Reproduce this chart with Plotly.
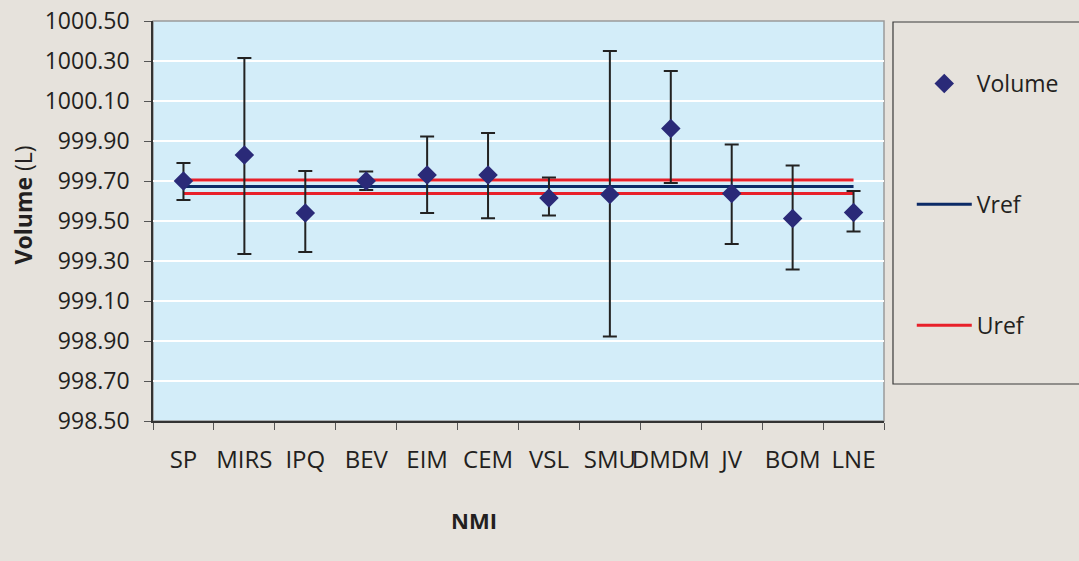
import plotly.graph_objects as go

categories = ["SP", "MIRS", "IPQ", "BEV", "EIM", "CEM", "VSL", "SMU", "DMDM", "JV", "BOM", "LNE"]
volume = [999.70, 999.83, 999.54, 999.70, 999.73, 999.73, 999.615, 999.633, 999.963, 999.637, 999.512, 999.542]
err_plus = [0.09, 0.485, 0.21, 0.047, 0.192, 0.21, 0.102, 0.717, 0.287, 0.246, 0.266, 0.108]
err_minus = [0.095, 0.495, 0.195, 0.045, 0.19, 0.216, 0.087, 0.711, 0.273, 0.252, 0.254, 0.095]
vref = 999.672
uref_hi = 999.705
uref_lo = 999.638

FONT = "Open Sans"
fig = go.Figure()

fig.add_trace(go.Scatter(
    x=categories, y=[vref] * len(categories), mode="lines", name="Vref",
    line=dict(color="#0c2a66", width=3), legendgroup="b", legendrank=2,
))
fig.add_trace(go.Scatter(
    x=categories, y=[uref_hi] * len(categories), mode="lines", name="Uref",
    line=dict(color="#e8202a", width=3), legendgroup="c", legendrank=3,
))
fig.add_trace(go.Scatter(
    x=categories, y=[uref_lo] * len(categories), mode="lines", name="Uref",
    line=dict(color="#e8202a", width=3), legendgroup="c", showlegend=False,
))
fig.add_trace(go.Scatter(
    x=categories, y=volume, mode="markers", name="Volume",
    marker=dict(symbol="diamond", size=15, color="#2a2a78"),
    error_y=dict(type="data", symmetric=False, array=err_plus, arrayminus=err_minus,
                 color="#222222", thickness=2, width=7),
    legendgroup="a", legendrank=1,
))

fig.update_layout(
    width=1079, height=561,
    margin=dict(l=153, r=195, t=21, b=140, autoexpand=False),
    paper_bgcolor="#e6e2dc",
    plot_bgcolor="#d3edf9",
    font=dict(family=FONT, size=23, color="#231f20"),
    showlegend=True,
    legend=dict(
        x=1.038, y=0.8975, xanchor="left", yanchor="top",
        bgcolor="rgba(0,0,0,0)", borderwidth=0,
        font=dict(family=FONT, size=23, color="#231f20"),
        tracegroupgap=88, itemwidth=55,
    ),
    shapes=[
        dict(type="rect", xref="paper", yref="paper", x0=0, x1=1, y0=0, y1=1,
             line=dict(color="#9a9a9a", width=1.5), fillcolor="rgba(0,0,0,0)", layer="below"),
        dict(type="rect", xref="paper", yref="paper", x0=1.0123, x1=1.3, y0=0.0925, y1=0.9975,
             line=dict(color="#3a3a3a", width=1.2), fillcolor="rgba(0,0,0,0)"),
    ],
    annotations=[
        dict(text="<b>NMI</b>", xref="paper", yref="paper", x=0.439, y=-0.2475,
             xanchor="center", yanchor="middle", showarrow=False,
             font=dict(family=FONT, size=22, color="#231f20")),
        dict(text="<b>Volume</b> (L)", xref="paper", yref="paper", x=-0.1778, y=0.539,
             xanchor="center", yanchor="middle", showarrow=False, textangle=-90,
             font=dict(family=FONT, size=23, color="#231f20")),
    ],
)

fig.update_xaxes(
    type="category", range=[-0.5, len(categories) - 0.5],
    showgrid=False, showline=True, linecolor="#333333", linewidth=1.5,
    ticks="outside", tickson="boundaries", ticklen=7, tickcolor="#555555", tickwidth=1.2,
    ticklabelstandoff=16, tickangle=0, automargin=False,
    tickfont=dict(family="Liberation Sans Narrow, Open Sans", size=24),
)
fig.update_yaxes(
    range=[998.5, 1000.5], dtick=0.2, tick0=998.5, tickformat=".2f",
    showgrid=True, gridcolor="#ffffff", gridwidth=1.5, zeroline=False,
    showline=True, linecolor="#333333", linewidth=1.5,
    ticks="outside", ticklen=7, tickcolor="#555555", tickwidth=1.2,
    ticklabelstandoff=10, automargin=False,
)

fig.write_html("out.html")
